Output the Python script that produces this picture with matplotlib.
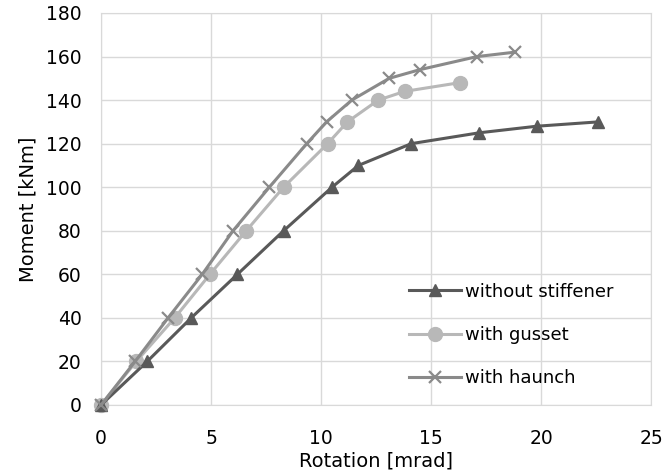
import matplotlib
matplotlib.use('Agg')
import matplotlib.pyplot as plt

# rotation [mrad] / moment [kNm]
rot_without = [0, 2.1, 4.1, 6.2, 8.3, 10.5, 11.7, 14.1, 17.2, 19.8, 22.6]
mom_without = [0, 20, 40, 60, 80, 100, 110, 120, 125, 128, 130]

rot_gusset = [0, 1.6, 3.35, 4.95, 6.6, 8.3, 10.3, 11.2, 12.6, 13.8, 16.3]
mom_gusset = [0, 20, 40, 60, 80, 100, 120, 130, 140, 144, 148]

rot_haunch = [0, 1.55, 3.05, 4.6, 6.0, 7.65, 9.35, 10.25, 11.4, 13.1, 14.5, 17.1, 18.8]
mom_haunch = [0, 20, 40, 60, 80, 100, 120, 130, 140, 150, 154, 160, 162]

labels = ['without stiffener', 'with gusset', 'with haunch']

plt.rcParams['font.family'] = ['DejaVu Sans']

fig = plt.figure(figsize=(6.66, 4.76), dpi=100)
ax = fig.add_axes([0.1517, 0.1492, 0.8258, 0.8235])

ax.plot(rot_without, mom_without, color='#595959', lw=2.2, marker='^', ms=9,
        label=labels[0], clip_on=False, zorder=4)
ax.plot(rot_gusset, mom_gusset, color='#b8b8b8', lw=2.2, marker='o', ms=10,
        label=labels[1], clip_on=False, zorder=3)
ax.plot(rot_haunch, mom_haunch, color='#8a8a8a', lw=2.2, marker='x', ms=9, mew=1.6,
        label=labels[2], clip_on=False, zorder=5)

ax.set_xlim(0, 25)
ax.set_ylim(0, 180)
ax.set_xticks(range(0, 26, 5))
ax.set_yticks(range(0, 181, 20))
ax.grid(True, color='#d9d9d9', lw=1)
ax.set_axisbelow(True)
for s in ax.spines.values():
    s.set_color('#d9d9d9')
ax.tick_params(length=0, labelsize=13.5, colors='#000000')
ax.tick_params(axis='x', pad=17)
ax.tick_params(axis='y', pad=14)

ax.set_xlabel('Rotation [mrad]', fontsize=14, labelpad=3)
ax.set_ylabel('Moment [kNm]', fontsize=14, labelpad=6)

leg = ax.legend(loc='lower left', bbox_to_anchor=(0.56, 0.045), frameon=False,
                fontsize=13, handlelength=2.9, handletextpad=0.2, labelspacing=1.4,
                borderpad=0, borderaxespad=0)

fig.savefig('out.png', dpi=100)
